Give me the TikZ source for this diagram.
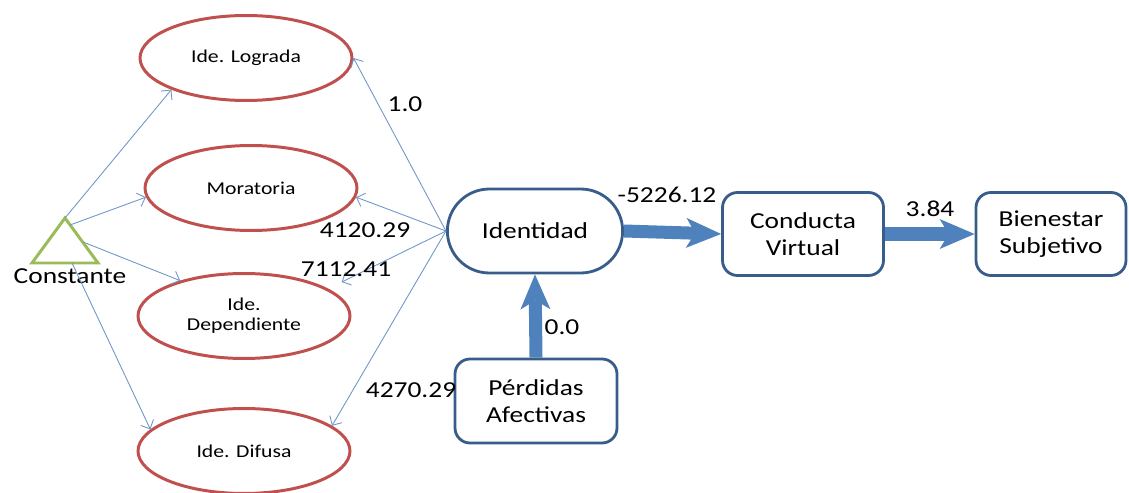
\documentclass[tikz,border=0pt]{standalone}
\usepackage{fontspec}
\setmainfont{Carlito}[FakeStretch=1.2]
\usepackage{tikz}
\usetikzlibrary{arrows.meta,shapes.geometric,shapes.misc}

\definecolor{ovalred}{RGB}{192,80,77}
\definecolor{boxblue}{RGB}{56,93,138}
\definecolor{flowblue}{RGB}{79,129,189}
\definecolor{lineblue}{RGB}{112,150,200}
\definecolor{constgreen}{RGB}{155,187,89}

\begin{document}
\begin{tikzpicture}[x=0.02cm,y=0.02cm,
    ovalnode/.style={ellipse,draw=ovalred,line width=1.7pt,minimum width=4.24cm,minimum height=1.7cm,
      align=center,font=\fontsize{10.3}{11.5}\selectfont},
    boxnode/.style={rectangle,rounded corners=0.3cm,draw=boxblue,line width=1.6pt,minimum height=1.66cm,
      align=center,font=\fontsize{13}{15.5}\selectfont},
    numlabel/.style={font=\fontsize{13}{15.5}\selectfont,inner sep=0pt},
    loadarrow/.style={-{Straight Barb[length=4pt,width=8pt]},color=lineblue,line width=0.5pt},
    flowarrow/.style={-{Stealth[length=0.7cm,width=0.6cm,inset=0.18cm,line width=0pt]},color=flowblue,line width=7.4pt}]
  \useasboundingbox (0,0) rectangle (1129,-493);

  % constant
  \draw[constgreen,line width=1.7pt] (65,-218) -- (98,-263) -- (32,-263) -- cycle;
  \coordinate (tri-top) at (65,-218);
  \coordinate (tri-r1) at (70,-225);
  \coordinate (tri-r2) at (83,-242);
  \coordinate (tri-base) at (72,-263);
  \draw (70,-276) node[numlabel] (constante) {Constante};

  % identity states
  \draw (246,-58) node[ovalnode] (lograda) {Ide. Lograda};
  \draw (251,-188) node[ovalnode] (moratoria) {Moratoria};
  \draw (244,-316) node[ovalnode] (dependiente) {Ide.\\Dependiente};
  \draw (244,-451) node[ovalnode] (difusa) {Ide. Difusa};

  \draw (535,-231) node[boxnode,rounded rectangle,rounded corners=0pt,minimum width=3.74cm,minimum height=1.68cm] (ident) {Identidad};
  \draw (803,-234) node[boxnode,minimum width=3.22cm] (conducta) {Conducta\\Virtual};
  \draw (1051,-234) node[boxnode,minimum width=3.0cm] (bienestar) {Bienestar\\Subjetivo};
  \draw (536,-401) node[boxnode,minimum width=3.24cm,minimum height=1.68cm] (perdidas) {Pérdidas\\Afectivas};

    \path[loadarrow] (tri-top) edge (lograda.203);
    \path[loadarrow] (tri-r1) edge (moratoria.185);
    \path[loadarrow] (tri-r2) edge (dependiente.151);
    \path[loadarrow] (tri-base) edge (difusa.167);

    \path[loadarrow] (ident.west) edge (lograda.east);
    \path[loadarrow] (ident.west) edge (moratoria.-5);
    \path[loadarrow,shorten >=0.3cm] (ident.west) edge (dependiente.18);
    \path[loadarrow] (ident.west) edge (difusa.16);

    \path[flowarrow] (ident.east) edge (conducta.west);
    \path[flowarrow] (conducta.east) edge (bienestar.west);
    \path[flowarrow] (perdidas.north) edge (ident.south);

  % estimates
  \draw (405,-104) node[numlabel] (w-lograda) {1.0};
  \draw (365,-230) node[numlabel] (w-moratoria) {4120.29};
  \draw (346,-269) node[numlabel] (w-dependiente) {7112.41};
  \draw (411,-390) node[numlabel] (w-difusa) {4270.29};
  \draw (667,-195) node[numlabel] (w-conducta) {-5226.12};
  \draw (930,-209) node[numlabel] (w-bienestar) {3.84};
  \draw (562,-327) node[numlabel] (w-perdidas) {0.0};

\end{tikzpicture}
\end{document}
